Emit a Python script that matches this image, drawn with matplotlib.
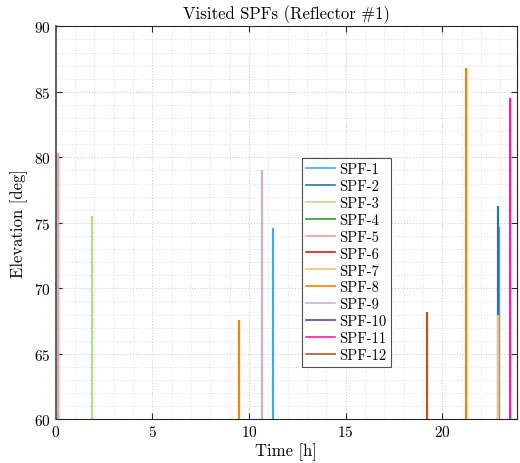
import matplotlib
matplotlib.use("Agg")
import matplotlib.pyplot as plt
from matplotlib.ticker import MultipleLocator

plt.rcParams["font.family"] = "serif"
plt.rcParams["font.serif"] = ["cmr10"]
plt.rcParams["axes.formatter.use_mathtext"] = True
plt.rcParams["mathtext.fontset"] = "cm"

# legend entries and colours
spf_names = ["SPF-%d" % i for i in range(1, 13)]
spf_colors = ["#45a5ee", "#1f78b4", "#b2df8a", "#33a02c", "#fb9a99", "#e31a1c",
              "#fdbf6f", "#ff7f00", "#cab2d6", "#6a3d9a", "#ff1aa8", "#b15928"]

# visited passes: which SPF, time [h], max elevation [deg]
pass_spf = [5, 3, 8, 9, 1, 12, 8, 2, 7, 1, 11]
pass_time = [0.12, 1.88, 9.47, 10.66, 11.26, 19.19, 21.23, 22.88, 22.88, 22.92, 23.50]
pass_peak = [80.3, 75.5, 67.6, 79.0, 74.6, 68.2, 86.8, 76.3, 68.0, 74.7, 84.5]

Y_LOW, Y_HIGH = 60, 90
X_HIGH = 23.86

fig = plt.figure(figsize=(5.2, 4.64), dpi=100)
ax = fig.add_axes([0.107, 0.094, 0.887, 0.847])

for k, name in enumerate(spf_names):
    idx = [i for i, s in enumerate(pass_spf) if s == k + 1]
    t = [pass_time[i] for i in idx]
    p = [pass_peak[i] for i in idx]
    # empty handle for legend, then the passes
    ax.plot([], [], color=spf_colors[k], lw=1.2, label=name)
    if t:
        ax.vlines(t, Y_LOW, p, color=spf_colors[k], lw=1.6)

ax.set_xlim(0, X_HIGH)
ax.set_ylim(Y_LOW, Y_HIGH)
ax.xaxis.set_major_locator(MultipleLocator(5))
ax.xaxis.set_minor_locator(MultipleLocator(1))
ax.yaxis.set_major_locator(MultipleLocator(5))
ax.yaxis.set_minor_locator(MultipleLocator(1))
ax.grid(which="major", color="#d0d0d0", ls=":", lw=0.8)
ax.grid(which="minor", color="#e0e0e0", ls=":", lw=0.7)
ax.set_axisbelow(True)
ax.tick_params(which="major", direction="in", top=True, right=True,
               length=4, color="#262626", labelsize=11)
ax.tick_params(which="minor", length=0)
for s in ax.spines.values():
    s.set_color("#262626")
    s.set_linewidth(0.8)
ax.spines["left"].set_color("#606060")
ax.spines["left"].set_linewidth(1.4)

ax.set_title("Visited SPFs (Reflector #1)", fontsize=12, pad=6)
ax.set_xlabel("Time [h]", fontsize=12, labelpad=2)
ax.set_ylabel("Elevation [deg]", fontsize=12, labelpad=4)

leg = ax.legend(loc="center", bbox_to_anchor=(0.63, 0.40), fontsize=10.5,
                frameon=True, fancybox=False, edgecolor="#262626",
                handlelength=2.0, handletextpad=0.25, labelspacing=0.22,
                borderpad=0.3, borderaxespad=0)
leg.get_frame().set_linewidth(0.8)

fig.savefig("out.png", dpi=100)
